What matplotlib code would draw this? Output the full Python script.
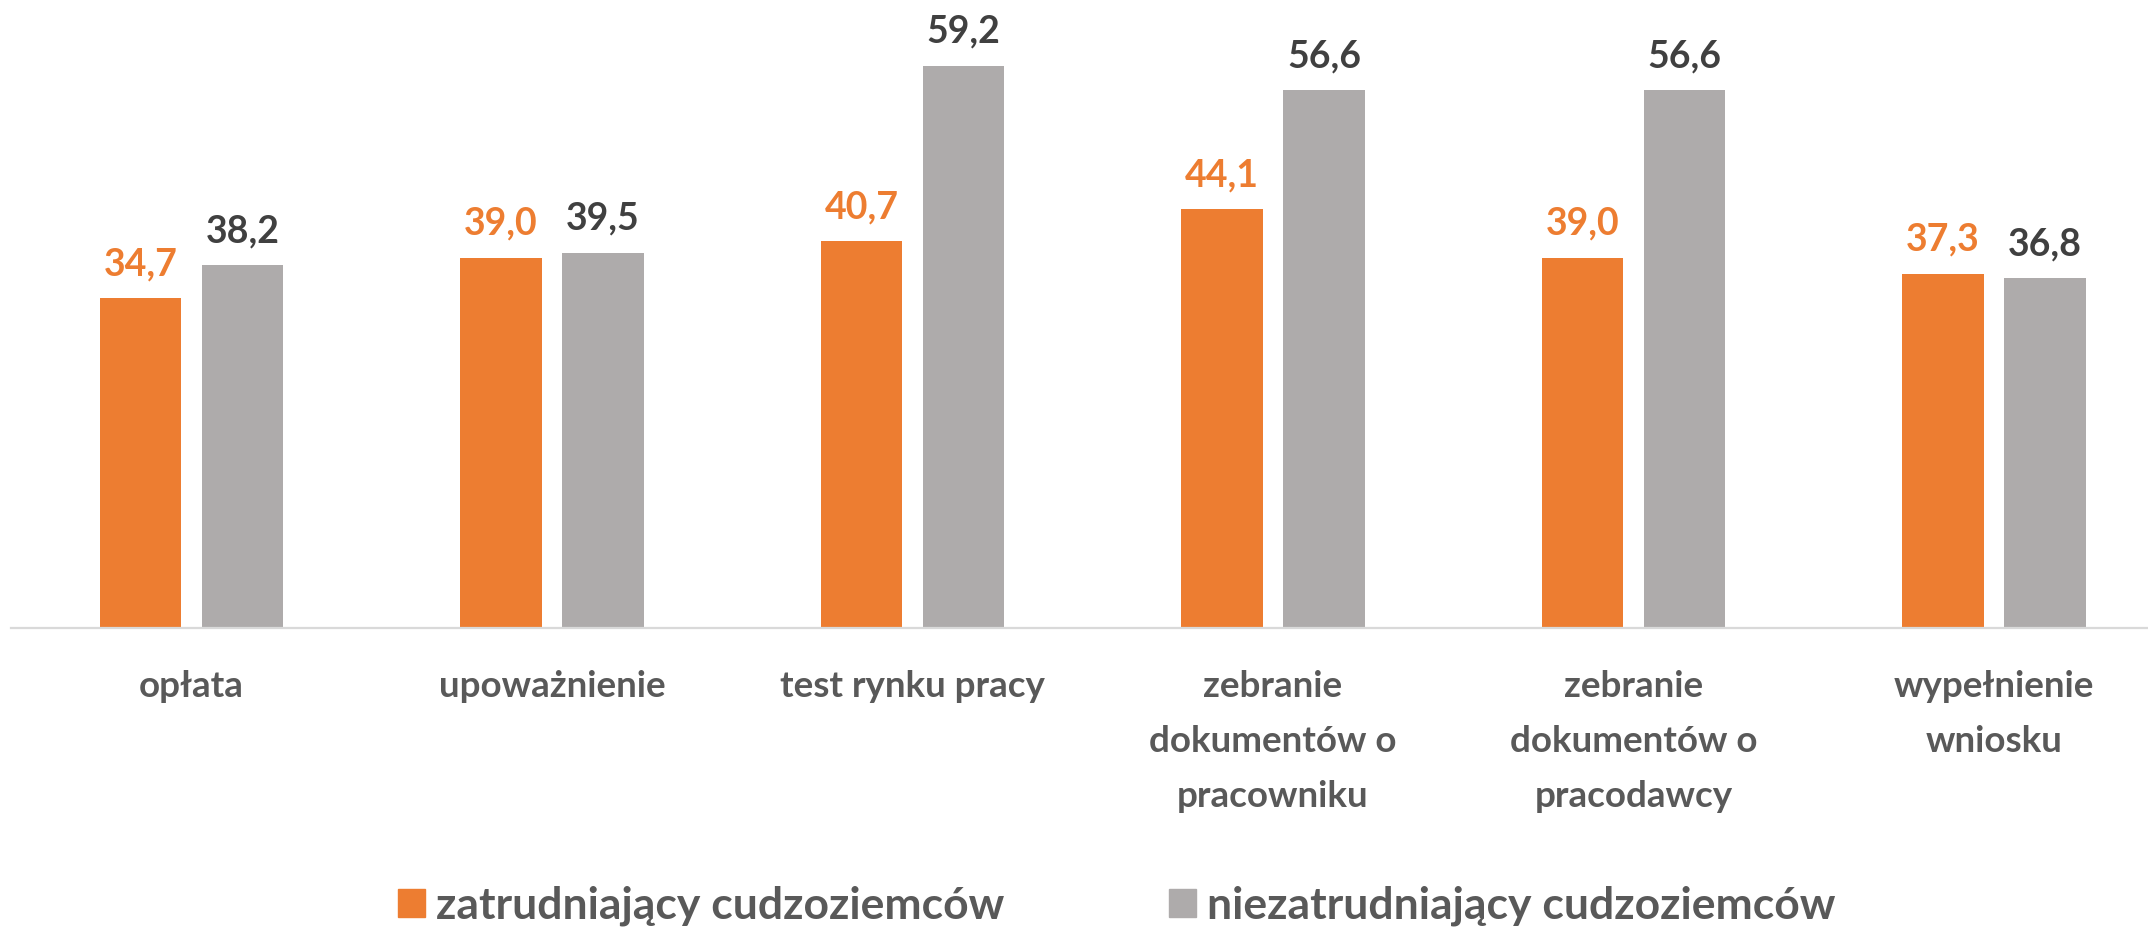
import matplotlib
matplotlib.use("Agg")
import matplotlib.pyplot as plt
import numpy as np
from matplotlib.patches import Patch

categories = ["opłata", "upoważnienie", "test rynku pracy",
              "zebranie\ndokumentów o\npracowniku",
              "zebranie\ndokumentów o\npracodawcy",
              "wypełnienie\nwniosku"]
series_names = ["zatrudniający cudzoziemców", "niezatrudniający cudzoziemców"]
employing = [34.7, 39.0, 40.7, 44.1, 39.0, 37.3]
not_employing = [38.2, 39.5, 59.2, 56.6, 56.6, 36.8]

ORANGE = "#ED7D31"
GRAY = "#AEABAB"
DARK = "#404040"
TXT = "#595959"

plt.rcParams['font.family'] = ['Lato', 'DejaVu Sans']
plt.rcParams['font.weight'] = 'bold'

W, H, DPI = 2148, 927, 100
fig = plt.figure(figsize=(W / DPI, H / DPI), dpi=DPI)

spacing = 360.5
left = 191.5 - spacing / 2
base_y = 628
px_per_unit = 9.5
ax = fig.add_axes([left / W, (H - base_y) / H, 6 * spacing / W, base_y / H])
ax.set_xlim(-0.5, 5.5)
ax.set_ylim(0, base_y / px_per_unit)

x = np.arange(len(categories))
bw = 0.225
off = 0.1415
ax.bar(x - off, employing, bw, color=ORANGE, label=series_names[0])
ax.bar(x + off, not_employing, bw, color=GRAY, label=series_names[1])

VFS = 27
for xi, v in zip(x, employing):
    ax.annotate(f"{v:.1f}".replace(".", ","), (xi - off, v), xytext=(0, 16.5),
                textcoords="offset points", ha="center", va="baseline",
                fontsize=VFS, fontweight="bold", color=ORANGE)
for xi, v in zip(x, not_employing):
    ax.annotate(f"{v:.1f}".replace(".", ","), (xi + off, v), xytext=(0, 16.5),
                textcoords="offset points", ha="center", va="baseline",
                fontsize=VFS, fontweight="bold", color=DARK)

for side in ["top", "right", "left"]:
    ax.spines[side].set_visible(False)
ax.spines["bottom"].set_color("#D9D9D9")
ax.spines["bottom"].set_linewidth(1.6)
ax.set_yticks([])
ax.set_xticks(x)
ax.set_xticklabels([])
ax.tick_params(axis="x", length=0)

for xi, c in zip(x, categories):
    ax.annotate(c, (xi, 0), xytext=(0, -(670 - base_y) * 72 / DPI),
                textcoords="offset points", ha="center", va="top",
                multialignment="center", fontsize=26.5, fontweight="bold",
                color=TXT, linespacing=1.82, annotation_clip=False)

handles = [Patch(color=ORANGE), Patch(color=GRAY)]
fig.legend(handles, series_names, loc="center", bbox_to_anchor=(1117 / W, 1 - 906 / H),
           ncol=2, frameon=False, prop={"size": 32, "weight": "bold"},
           labelcolor=TXT, handlelength=0.61, handleheight=0.61,
           handletextpad=0.25, columnspacing=3.7, borderpad=0, borderaxespad=0)

fig.savefig("out.png", dpi=DPI)
